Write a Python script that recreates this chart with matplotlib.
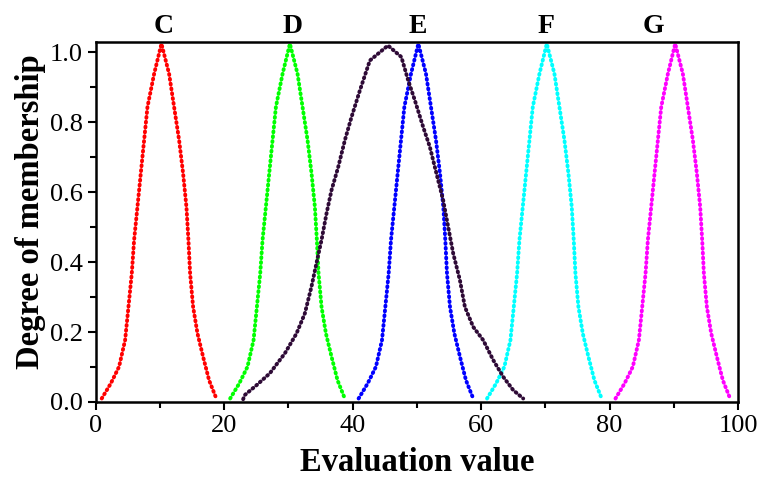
#!/usr/bin/env python
# -*- coding: utf-8 -*-

import matplotlib
matplotlib.use('Agg')
import matplotlib.pyplot as plt
import numpy as np

# shape of the narrow clouds (C, D, E, F, G share the same drop pattern),
# read as offset from the centre value and degree of membership
narrow_dx = [-9.07, -7.66, -6.37, -5.43, -4.91, -4.39, -4.03, -3.51, -2.99, -2.47,
             -1.95, -0.91, 0.23, 1.42, 2.20, 2.98, 3.60, 4.12, 4.43, 4.69,
             5.16, 5.84, 6.72, 7.65, 8.69]
narrow_mu = [0.010, 0.053, 0.101, 0.177, 0.272, 0.368, 0.463, 0.558, 0.654, 0.749,
             0.844, 0.939, 1.025, 0.939, 0.844, 0.749, 0.654, 0.558, 0.463, 0.368,
             0.272, 0.196, 0.129, 0.062, 0.014]

grades = ['C', 'D', 'E', 'F', 'G']
centres = [10, 30, 50, 70, 90]
grade_colors = ['#ff0000', '#00ff00', '#0000ff', '#00ffff', '#ff00ff']
label_x = [10.6, 30.6, 50.2, 70.1, 86.8]

# wide dark cloud (evaluation result)
wide_x = [22.95, 23.21, 25.03, 27.10, 29.44, 31.26, 32.55, 33.59, 34.47, 35.15,
          35.93, 36.71, 37.75, 38.79, 39.82, 41.12, 42.68, 45.5, 47.59, 48.65,
          49.69, 50.98, 52.02, 53.06, 54.10, 54.88, 55.66, 56.70, 57.48, 58.77,
          60.33, 61.89, 63.45, 65.0, 66.56]
wide_mu = [0.008, 0.020, 0.048, 0.082, 0.139, 0.196, 0.253, 0.330, 0.406, 0.463,
           0.539, 0.606, 0.672, 0.749, 0.815, 0.891, 0.977, 1.020, 0.987, 0.920,
           0.863, 0.787, 0.730, 0.653, 0.577, 0.501, 0.425, 0.349, 0.272, 0.215,
           0.177, 0.120, 0.072, 0.034, 0.010]
wide_color = '#2e0a36'

plt.rcParams['font.family'] = ['Liberation Serif', 'DejaVu Serif']

fig = plt.figure(figsize=(7.6, 4.8), dpi=100)
ax = fig.add_axes([0.126, 0.1625, 0.845, 0.75])

# drops drawn as a loose chain of dots along the read profile
dots = dict(linestyle=(0, (0.25, 1.0)), linewidth=2.8, dash_capstyle='round')

for g, c, col in zip(grades, centres, grade_colors):
    xs = np.array(narrow_dx) + c
    ax.plot(xs, narrow_mu, color=col, **dots)
ax.plot(wide_x, wide_mu, color=wide_color, **dots)

for g, lx in zip(grades, label_x):
    ax.text(lx, 1.055, g, ha='center', va='baseline', fontsize=20,
            fontweight='bold', clip_on=False)

ax.set_xlim(0, 100)
ax.set_ylim(0, 1.03)
ax.set_xticks(np.arange(0, 101, 20))
ax.set_xticks(np.arange(0, 101, 10), minor=True)
ax.set_yticks(np.arange(0, 1.01, 0.2))
ax.set_yticks(np.arange(0, 1.01, 0.1), minor=True)
ax.set_yticklabels(['0.0', '0.2', '0.4', '0.6', '0.8', '1.0'])
ax.tick_params(which='major', direction='out', length=6, width=1.5, labelsize=19)
ax.tick_params(which='minor', direction='out', length=4, width=1.5)
for s in ax.spines.values():
    s.set_linewidth(1.8)

ax.set_xlabel('Evaluation value', fontsize=23.5, fontweight='bold', labelpad=7)
ax.set_ylabel('Degree of membership', fontsize=23.5, fontweight='bold')
ax.yaxis.set_label_coords(-0.077, 0.53)

fig.savefig('out.png', dpi=100)
